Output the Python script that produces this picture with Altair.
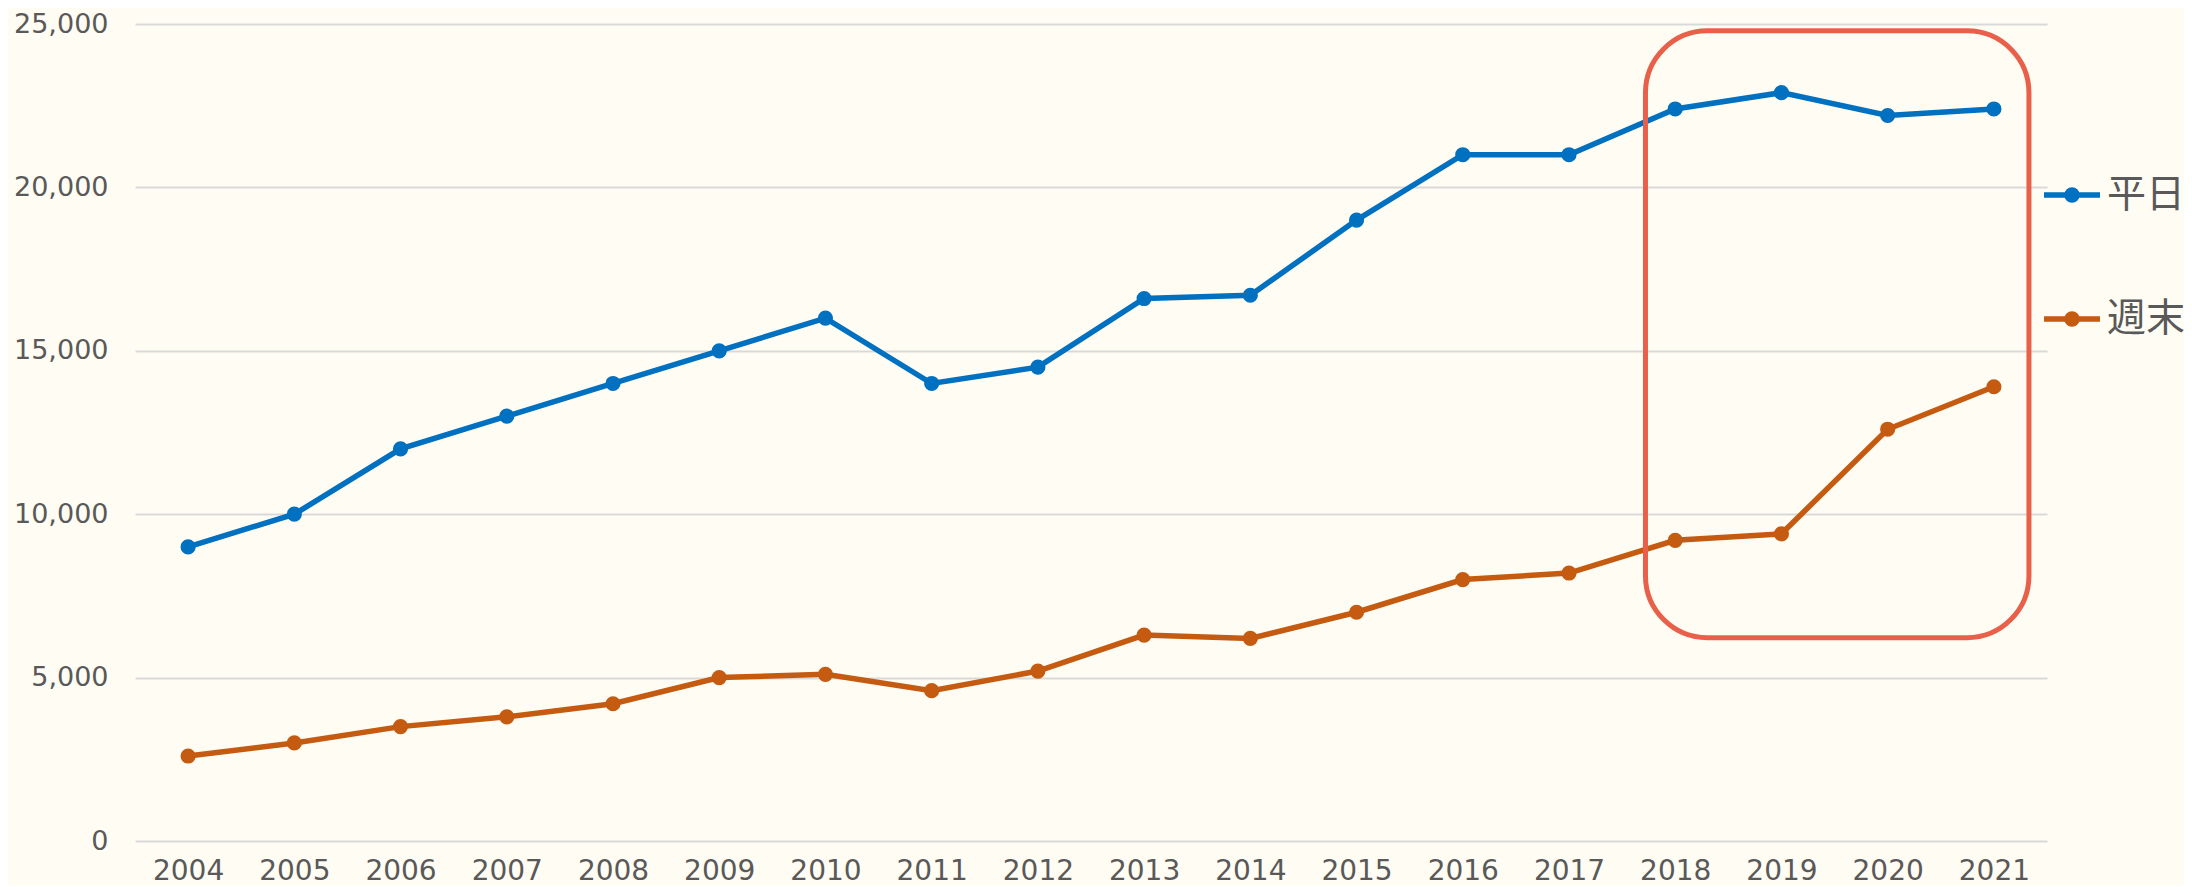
import altair as alt
import pandas as pd

years = list(range(2004, 2022))
weekday = [9000, 10000, 12000, 13000, 14000, 15000, 16000, 14000, 14500,
           16600, 16700, 19000, 21000, 21000, 22400, 22900, 22200, 22400]
weekend = [2600, 3000, 3500, 3800, 4200, 5000, 5100, 4600, 5200,
           6300, 6200, 7000, 8000, 8200, 9200, 9400, 12600, 13900]
series = ["平日", "週末"]
colors = ["#0070C0", "#C55A11"]
y_ticks = [0, 5000, 10000, 15000, 20000, 25000]
highlight_x = [2017.72, 2021.33]
highlight_y = [6220, 24790]

df = pd.DataFrame({
    "year": years * 2,
    "value": weekday + weekend,
    "series": [series[0]] * len(years) + [series[1]] * len(years),
})
df_rect = pd.DataFrame({"x": [highlight_x[0]], "x2": [highlight_x[1]],
                        "y": [highlight_y[0]], "y2": [highlight_y[1]]})

TEXT = "#595959"
legend_path = ("M-1,0H1 "
               "M-0.18,0A0.18,0.18 0 1,1 0.18,0A0.18,0.18 0 1,1 -0.18,0 "
               "M-0.09,0A0.09,0.09 0 1,1 0.09,0A0.09,0.09 0 1,1 -0.09,0")

x_enc = alt.X("year:Q",
              scale=alt.Scale(domain=[2003.5, 2021.5], nice=False, zero=False),
              axis=alt.Axis(values=years, format="d", title=None, grid=False,
                            domain=False, ticks=False, labelFontSize=28,
                            labelFont="DejaVu Sans", labelColor=TEXT,
                            labelPadding=16, labelFlush=False, labelOverlap=False))
y_enc = alt.Y("value:Q",
              scale=alt.Scale(domain=[0, 25000], nice=False),
              axis=alt.Axis(values=y_ticks, format=",d", title=None, domain=False,
                            ticks=False, labelFontSize=27, labelFont="DejaVu Sans",
                            labelColor=TEXT, labelPadding=27,
                            gridColor="#D9D9D9", gridWidth=2))

lines = alt.Chart(df).mark_line(
    strokeWidth=5.5,
    point=alt.OverlayMarkDef(size=230, filled=True, opacity=1),
).encode(
    x=x_enc,
    y=y_enc,
    color=alt.Color("series:N", sort=series,
                    scale=alt.Scale(domain=series, range=colors),
                    legend=alt.Legend(title=None, orient="none", legendX=1906,
                                      legendY=140, padding=0,
                                      symbolType=legend_path, symbolSize=3136,
                                      symbolStrokeWidth=5.5, labelFontSize=39,
                                      labelFont="Noto Sans CJK JP",
                                      labelColor=TEXT, labelOffset=4,
                                      rowPadding=73)),
    order="year:Q",
)

box = alt.Chart(df_rect).mark_rect(
    fill="transparent", stroke="#E9604A", strokeWidth=5, cornerRadius=62
).encode(
    x="x:Q", x2="x2:Q", y="y:Q", y2="y2:Q"
)

chart = alt.layer(lines, box).properties(
    width=1912, height=817,
    autosize=alt.AutoSizeParams(type="none"),
    padding={"left": 127, "top": 16, "right": 137, "bottom": 44},
    background="#FFFCF3",
).configure_view(strokeWidth=0)

chart.save("out.html", embed_options={"renderer": "svg", "actions": False})
